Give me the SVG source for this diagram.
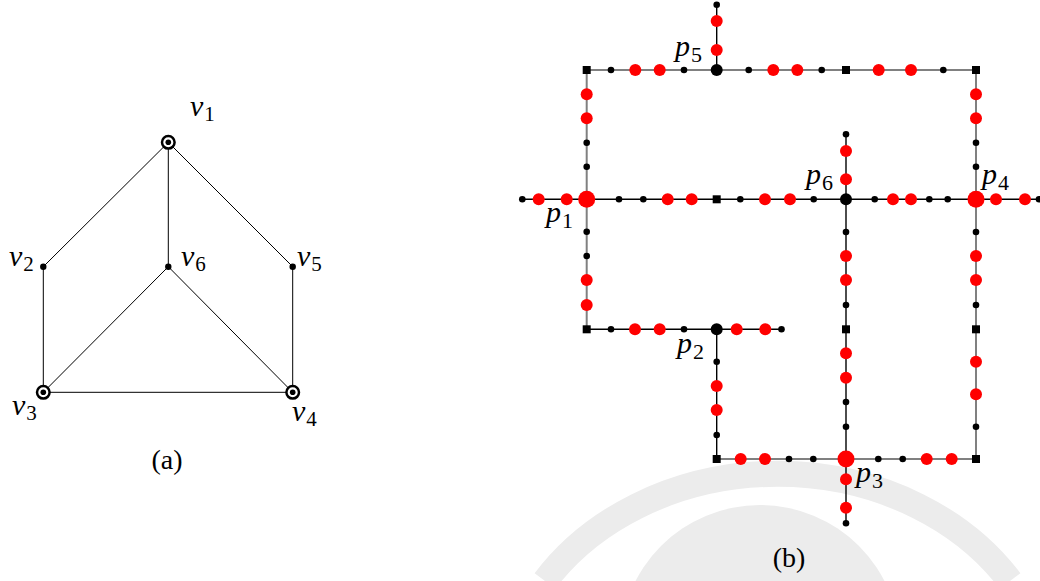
<svg xmlns="http://www.w3.org/2000/svg" width="1040" height="581" viewBox="0 0 1040 581">
<defs>
<style>
.e{stroke:#000;stroke-width:1;fill:none}
.g{stroke:#808080;stroke-width:2;fill:none}
.k{stroke:#000;stroke-width:1.4;fill:none}
.rd{fill:#ff0000}
.ring{fill:#fff;stroke:#000;stroke-width:2.5}
.wm{fill:none;stroke:#ececec}
.lv{font-family:"Liberation Serif","DejaVu Serif",serif;font-style:italic;font-size:30px;fill:#000}
.lp{font-family:"Liberation Serif","DejaVu Serif",serif;font-style:italic;font-size:30px;fill:#000}
.cap{font-family:"Liberation Serif","DejaVu Serif",serif;font-size:28px;fill:#000}
.n{font-style:normal}
</style>
<circle id="b" r="3.3"/>
<circle id="r" r="6"/>
<circle id="R" r="8.5"/>
<circle id="B" r="6"/>
<rect id="s" x="-4" y="-4" width="8" height="8"/>
</defs>
<rect width="1040" height="581" fill="#fff"/>
<g id="watermark">
<path class="wm" stroke-width="26" d="M545,581 A275,230 0 0 1 1010,581"/>
<circle cx="760" cy="645" r="140" fill="#ececec"/>
</g>
<g id="graph-a">
<g id="edges-a">
<line class="e" x1="168.3" y1="142.3" x2="43.3" y2="266.7"/>
<line class="e" x1="168.3" y1="142.3" x2="168.3" y2="266.7"/>
<line class="e" x1="168.3" y1="142.3" x2="292.7" y2="266.7"/>
<line class="e" x1="43.3" y1="266.7" x2="43.3" y2="392.3"/>
<line class="e" x1="292.7" y1="266.7" x2="292.7" y2="392.3"/>
<line class="e" x1="168.3" y1="266.7" x2="43.3" y2="392.3"/>
<line class="e" x1="168.3" y1="266.7" x2="292.7" y2="392.3"/>
<line class="e" x1="43.3" y1="392.3" x2="292.7" y2="392.3"/>
</g>
<g id="v1"><circle class="ring" cx="168.3" cy="142.3" r="6.3"/><circle cx="168.3" cy="142.3" r="2.8"/><text class="lv" x="190" y="116">v<tspan class="n" font-size="21" dx="1" dy="5">1</tspan></text></g>
<g id="v2"><circle cx="43.3" cy="266.7" r="3.2"/><text class="lv" x="9" y="266">v<tspan class="n" font-size="21" dx="1" dy="5">2</tspan></text></g>
<g id="v6"><circle cx="168.3" cy="266.7" r="3.2"/><text class="lv" x="181" y="266">v<tspan class="n" font-size="21" dx="1" dy="5">6</tspan></text></g>
<g id="v5"><circle cx="292.7" cy="266.7" r="3.2"/><text class="lv" x="297" y="266">v<tspan class="n" font-size="21" dx="1" dy="5">5</tspan></text></g>
<g id="v3"><circle class="ring" cx="43.3" cy="392.3" r="6.3"/><circle cx="43.3" cy="392.3" r="2.8"/><text class="lv" x="12" y="415">v<tspan class="n" font-size="21" dx="1" dy="5">3</tspan></text></g>
<g id="v4"><circle class="ring" cx="292.7" cy="392.3" r="6.3"/><circle cx="292.7" cy="392.3" r="2.8"/><text class="lv" x="292" y="421">v<tspan class="n" font-size="21" dx="1" dy="5">4</tspan></text></g>
<text id="cap-a" class="cap" x="167" y="469" text-anchor="middle">(a)</text>
</g>
<g id="graph-b">
<g id="connectors">
<path class="g" d="M586.7,329.3 V70 H976 V459 H716.7"/>
<path class="k" d="M522,199.3 H1040"/>
<path class="k" d="M716.7,4.7 V70"/>
<path class="k" d="M846,134.3 V523.3"/>
<path class="k" d="M586.7,329.3 H781.5"/>
<path class="k" d="M716.7,329.3 V459"/>
</g>
<g id="top-row">
<use href="#s" x="586.7" y="70"/><use href="#s" x="846" y="70"/><use href="#s" x="976" y="70"/>
<use href="#b" x="611" y="70"/><use href="#b" x="684" y="70"/><use href="#b" x="748.7" y="70"/><use href="#b" x="821.7" y="70"/><use href="#b" x="943.3" y="70"/>
<use class="rd" href="#r" x="635.3" y="70"/><use class="rd" href="#r" x="659.7" y="70"/><use class="rd" href="#r" x="773.3" y="70"/><use class="rd" href="#r" x="797.3" y="70"/><use class="rd" href="#r" x="878.7" y="70"/><use class="rd" href="#r" x="911" y="70"/>
</g>
<g id="p5-col">
<use href="#b" x="716.7" y="4.7"/>
<use class="rd" href="#r" x="716.7" y="21"/><use class="rd" href="#r" x="716.7" y="50"/>
</g>
<g id="left-col">
<use class="rd" href="#r" x="586.7" y="94.3"/><use class="rd" href="#r" x="586.7" y="118.3"/>
<use href="#b" x="586.7" y="142.7"/><use href="#b" x="586.7" y="166.7"/>
<use href="#b" x="586.7" y="231.7"/><use href="#b" x="586.7" y="256"/>
<use class="rd" href="#r" x="586.7" y="280"/><use class="rd" href="#r" x="586.7" y="305"/>
<use href="#s" x="586.7" y="329.3"/>
</g>
<g id="p1-row">
<use href="#b" x="522.3" y="199.3"/>
<use class="rd" href="#r" x="538.7" y="199.3"/><use class="rd" href="#r" x="566.7" y="199.3"/>
<use href="#b" x="619" y="199.3"/><use href="#b" x="643.3" y="199.3"/>
<use class="rd" href="#r" x="667.7" y="199.3"/><use class="rd" href="#r" x="691.7" y="199.3"/>
<use href="#s" x="716.7" y="199.3"/>
<use href="#b" x="740.3" y="199.3"/>
<use class="rd" href="#r" x="765" y="199.3"/><use class="rd" href="#r" x="790" y="199.3"/>
<use href="#b" x="813.7" y="199.3"/>
<use href="#b" x="874.7" y="199.3"/>
<use class="rd" href="#r" x="893" y="199.3"/><use class="rd" href="#r" x="911" y="199.3"/>
<use href="#b" x="929.3" y="199.3"/><use href="#b" x="947.7" y="199.3"/>
<use class="rd" href="#r" x="996" y="199.3"/><use class="rd" href="#r" x="1025" y="199.3"/>
<use href="#b" x="1039" y="199.3"/>
</g>
<g id="p6-col">
<use href="#b" x="846" y="134.3"/>
<use class="rd" href="#r" x="846" y="151"/><use class="rd" href="#r" x="846" y="179.3"/>
<use href="#b" x="846" y="232"/>
<use class="rd" href="#r" x="846" y="256"/><use class="rd" href="#r" x="846" y="280"/>
<use href="#b" x="846" y="305"/>
<use href="#s" x="846" y="329.3"/>
<use class="rd" href="#r" x="846" y="353.3"/><use class="rd" href="#r" x="846" y="377.7"/>
<use href="#b" x="846" y="402"/><use href="#b" x="846" y="426.7"/>
<use class="rd" href="#r" x="846" y="479.3"/><use class="rd" href="#r" x="846" y="507.7"/>
<use href="#b" x="846" y="523.3"/>
</g>
<g id="right-col">
<use class="rd" href="#r" x="976" y="94.3"/><use class="rd" href="#r" x="976" y="118.3"/>
<use href="#b" x="976" y="142.7"/><use href="#b" x="976" y="166.7"/>
<use href="#b" x="976" y="232"/>
<use class="rd" href="#r" x="976" y="256"/><use class="rd" href="#r" x="976" y="280"/>
<use href="#b" x="976" y="305"/>
<use href="#s" x="976" y="329.3"/>
<use class="rd" href="#r" x="976" y="361.7"/><use class="rd" href="#r" x="976" y="394.3"/>
<use href="#b" x="976" y="426.7"/>
<use href="#s" x="976" y="459"/>
</g>
<g id="row-329">
<use href="#b" x="611" y="329.3"/>
<use class="rd" href="#r" x="635" y="329.3"/><use class="rd" href="#r" x="659.7" y="329.3"/>
<use href="#b" x="684" y="329.3"/>
<use class="rd" href="#r" x="736.7" y="329.3"/><use class="rd" href="#r" x="765.3" y="329.3"/>
<use href="#b" x="781.5" y="329.3"/>
</g>
<g id="p2-col">
<use href="#b" x="716.7" y="361.7"/>
<use class="rd" href="#r" x="716.7" y="386"/><use class="rd" href="#r" x="716.7" y="410"/>
<use href="#b" x="716.7" y="435"/>
<use href="#s" x="716.7" y="459"/>
</g>
<g id="bottom-row">
<use class="rd" href="#r" x="740.7" y="459"/><use class="rd" href="#r" x="765" y="459"/>
<use href="#b" x="789" y="459"/><use href="#b" x="813.3" y="459"/>
<use href="#b" x="878.3" y="459"/><use href="#b" x="902.7" y="459"/>
<use class="rd" href="#r" x="926.7" y="459"/><use class="rd" href="#r" x="951.7" y="459"/>
</g>
<g id="p1"><use class="rd" href="#R" x="586.7" y="199.3"/><text class="lp" x="546" y="222">p<tspan class="n" font-size="22" dx="1" dy="6">1</tspan></text></g>
<g id="p2"><use href="#B" x="716.7" y="329.3"/><text class="lp" x="677" y="353">p<tspan class="n" font-size="22" dx="1" dy="6">2</tspan></text></g>
<g id="p3"><use class="rd" href="#R" x="846" y="459"/><text class="lp" x="856" y="482">p<tspan class="n" font-size="22" dx="1" dy="6">3</tspan></text></g>
<g id="p4"><use class="rd" href="#R" x="976" y="199.3"/><text class="lp" x="982" y="184">p<tspan class="n" font-size="22" dx="1" dy="6">4</tspan></text></g>
<g id="p5"><use href="#B" x="716.7" y="70"/><text class="lp" x="675" y="56">p<tspan class="n" font-size="22" dx="1" dy="6">5</tspan></text></g>
<g id="p6"><use href="#B" x="846" y="199.3"/><text class="lp" x="806" y="184">p<tspan class="n" font-size="22" dx="1" dy="6">6</tspan></text></g>
<text id="cap-b" class="cap" x="789" y="567" text-anchor="middle">(b)</text>
</g>
</svg>
